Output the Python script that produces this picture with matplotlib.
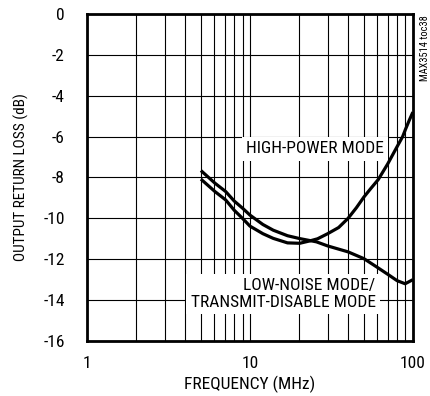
import matplotlib
matplotlib.use("Agg")
from matplotlib import pyplot as plt
from matplotlib import font_manager
from matplotlib.ticker import NullLocator, NullFormatter

# narrow sans like the datasheet font, first one installed wins
names = {f.name for f in font_manager.fontManager.ttflist}
fam = "DejaVu Sans"
for cand in ["Liberation Sans Narrow", "Roboto Condensed", "Archivo Narrow", "Barlow Condensed"]:
    if cand in names:
        fam = cand
        break
plt.rcParams["font.family"] = [fam, "DejaVu Sans"]

# data
freq_hp = [5, 6.1, 7.1, 8, 9, 10, 12, 13.9, 17, 20.2, 23.4, 26, 30, 35, 40, 45, 50, 55, 61.3, 70, 80, 86.5, 90, 95, 100]
rl_hp = [-8.08, -8.69, -9.1, -9.6, -10.0, -10.38, -10.75, -10.98, -11.2, -11.22, -11.1, -11.0,
         -10.75, -10.45, -10.0, -9.48, -8.96, -8.55, -8.1, -7.34, -6.49, -6.0, -5.65, -5.2, -4.8]
freq_ln = [5, 6.1, 7.1, 8, 9, 10, 12, 13.9, 17, 20.2, 25.6, 30, 40, 50, 60, 72, 80, 89.6, 100]
rl_ln = [-7.66, -8.28, -8.69, -9.15, -9.5, -9.84, -10.3, -10.58, -10.85, -10.99, -11.15,
         -11.35, -11.64, -11.97, -12.38, -12.8, -13.05, -13.2, -13.0]
yticks = [0, -2, -4, -6, -8, -10, -12, -14, -16]
xticks = [1, 10, 100]

fig = plt.figure(figsize=(4.31, 3.96), dpi=100)
ax = fig.add_axes([0.2019, 0.139, 0.7561, 0.8256])

ax.set_xscale("log")
ax.set_xlim(1, 100)
ax.set_ylim(-16, 0)

ax.plot(freq_hp, rl_hp, color="black", lw=2.3, zorder=3, solid_capstyle="butt")
ax.plot(freq_ln, rl_ln, color="black", lw=2.3, zorder=3, solid_capstyle="butt")

ax.set_xticks(xticks)
ax.set_xticklabels(["1", "10", "100"])
ax.set_yticks(yticks)
ax.set_yticklabels([str(v) for v in yticks])
ax.tick_params(which="both", length=0, labelsize=12.5)
ax.tick_params(axis="y", pad=16)
ax.tick_params(axis="x", pad=11)
ax.minorticks_on()
ax.yaxis.set_minor_locator(NullLocator())
ax.xaxis.set_minor_formatter(NullFormatter())
ax.grid(True, which="both", color="black", lw=0.8, zorder=1)
for s in ax.spines.values():
    s.set_linewidth(2.0)

box = dict(facecolor="white", edgecolor="none", pad=3)
ax.text(25, -6.6, "HIGH-POWER MODE", ha="center", va="center", fontsize=12.5,
        bbox=box, zorder=2)
ax.text(59, -13.7, "LOW-NOISE MODE/\nTRANSMIT-DISABLE MODE", ha="right", va="center",
        fontsize=12.5, multialignment="right", linespacing=1.1, bbox=box, zorder=2)

ax.set_xlabel("FREQUENCY (MHz)", fontsize=12.5, labelpad=3)
ax.set_ylabel("OUTPUT RETURN LOSS (dB)", fontsize=11, labelpad=10)

fig.text(0.986, 0.962, "MAX3514 toc38", rotation=90, ha="center", va="top", fontsize=7.5)

fig.savefig("out.png", dpi=100)
